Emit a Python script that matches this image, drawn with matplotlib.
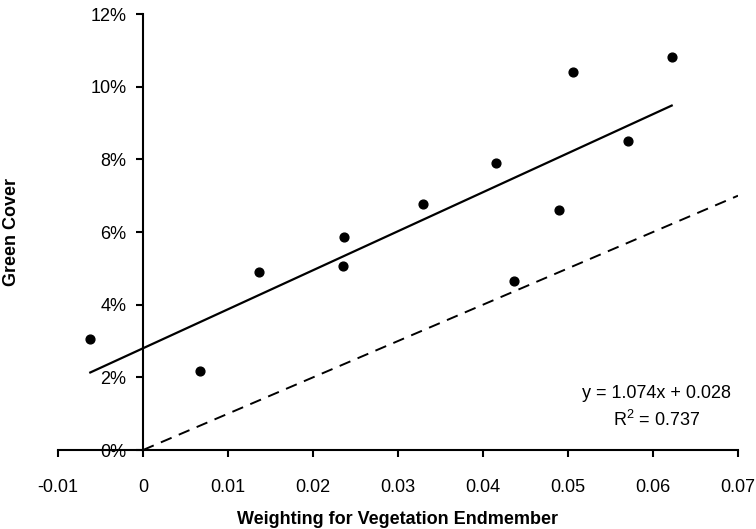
import matplotlib
matplotlib.use("Agg")
import matplotlib.pyplot as plt
from matplotlib.ticker import FuncFormatter

plt.rcParams['font.family'] = ['Liberation Sans', 'DejaVu Sans']

# endmember weighting vs. measured green cover (fraction)
weighting = [-0.0062, 0.0067, 0.0136, 0.0235, 0.0236, 0.0330,
             0.0415, 0.0436, 0.0489, 0.0506, 0.0571, 0.0622]
green_cover = [0.0306, 0.0218, 0.0491, 0.0507, 0.0586, 0.0676,
               0.0789, 0.0466, 0.0661, 0.1040, 0.0850, 0.1083]

slope = 1.074
intercept = 0.028
r_squared = 0.737

x_ticks = [-0.01, 0, 0.01, 0.02, 0.03, 0.04, 0.05, 0.06, 0.07]
y_ticks = [0, 0.02, 0.04, 0.06, 0.08, 0.10, 0.12]

fig = plt.figure(figsize=(7.56, 5.29), dpi=100)
ax = fig.add_axes([0.0767, 0.1493, 0.8995, 0.8242])

ax.scatter(weighting, green_cover, s=40, color='black', zorder=3)

# fitted line over the range of the data
x_fit = [min(weighting), max(weighting)]
ax.plot(x_fit, [slope * v + intercept for v in x_fit], color='black', lw=1.6)

# 1:1 line
ax.plot([0, 0.07], [0, 0.07], color='black', lw=1.4, ls=(0, (6, 4)))

ax.set_xlim(-0.01, 0.07)
ax.set_ylim(0, 0.12)
ax.set_xticks(x_ticks)
ax.set_yticks(y_ticks)
ax.xaxis.set_major_formatter(FuncFormatter(lambda v, p: '0' if abs(v) < 1e-12 else f'{v:g}'))
ax.yaxis.set_major_formatter(FuncFormatter(lambda v, p: f'{v * 100:.0f}%'))

ax.spines['left'].set_position(('data', 0))
ax.spines['right'].set_visible(False)
ax.spines['top'].set_visible(False)
for s in ('left', 'bottom'):
    ax.spines[s].set_linewidth(1.5)

ax.tick_params(axis='x', direction='out', length=5, width=1.5, pad=16, labelsize=13)
ax.tick_params(axis='y', direction='out', length=5, width=1.5, pad=7, labelsize=13)

ax.set_xlabel('Weighting for Vegetation Endmember', fontsize=13, fontweight='bold', labelpad=11)
ax.set_ylabel('Green Cover', fontsize=13, fontweight='bold')
ax.yaxis.set_label_coords(-0.056, 0.5)

ax.text(0.0604, 0.0118, f'y = {slope:.3f}x + {intercept:.3f}\n$\\mathregular{{R^2}}$ = {r_squared:.3f}',
        ha='center', va='center', fontsize=13, linespacing=1.5, multialignment='center')

fig.savefig('out.png', dpi=100)
